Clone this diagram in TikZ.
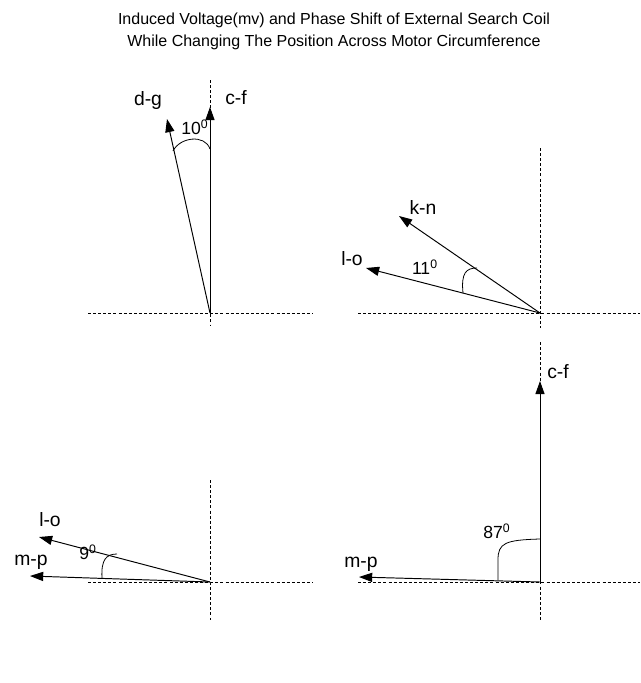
\documentclass[tikz,border=0pt]{standalone}
\usepackage{fontspec}
\setmainfont{Liberation Sans}
\usetikzlibrary{arrows.meta}

\tikzset{
  axis/.style={dash pattern=on 1.7pt off 1.2pt, line width=0.4pt},
  phasor/.style={line width=0.55pt, -{Triangle[length=7.5pt,width=5.2pt]}},
  anglearc/.style={line width=0.45pt},
  vlabel/.style={font=\fontsize{11}{12}\selectfont, inner sep=0pt},
  alabel/.style={font=\fontsize{10}{11}\selectfont, inner sep=0pt}
}

\begin{document}
\begin{tikzpicture}[x=0.02cm, y=-0.02cm]
\useasboundingbox (0,0) rectangle (640,683);

% Title
\node[font=\fontsize{9.1}{12.5}\selectfont, align=center] (title) at (334,31)
  {Induced Voltage(mv) and Phase Shift of External Search Coil\\While Changing The Position Across Motor Circumference};

% Top left: c-f and d-g
\coordinate (O1) at (210,313);
\coordinate (cf1) at (210,107);
\coordinate (dg1) at (167,119);
\coordinate (a1s) at (173,151);
\coordinate (a1e) at (210,149);
\draw[axis] (88,313) -- (313,313);
\draw[axis] (210,80) -- (210,325);
\draw[phasor] (O1) -- (cf1);
\draw[phasor] (O1) -- (dg1);
\draw[anglearc] (a1s) .. controls (180,137) and (205,134) .. (a1e);
\node[vlabel] (lcf1) at (236,98) {c-f};
\node[vlabel] (ldg1) at (148,101) {d-g};
\node[alabel] (ang1) at (195,127) {10\textsuperscript{0}};

% Top right: k-n and l-o
\coordinate (O2) at (540,313);
\coordinate (kn2) at (399,216);
\coordinate (lo2) at (366,268);
\coordinate (a2s) at (463,293);
\coordinate (a2e) at (477,268);
\draw[axis] (358,313) -- (640,313);
\draw[axis] (540,148) -- (540,328);
\draw[phasor] (O2) -- (kn2);
\draw[phasor] (O2) -- (lo2);
\draw[anglearc] (a2s) .. controls (461,273) and (466,268) .. (a2e);
\node[vlabel] (lkn2) at (423,207) {k-n};
\node[vlabel] (llo2) at (352,259) {l-o};
\node[alabel] (ang2) at (425,267) {11\textsuperscript{0}};

% Bottom left: l-o and m-p
\coordinate (O3) at (210,582);
\coordinate (lo3) at (39,537);
\coordinate (mp3) at (30,576);
\coordinate (a3s) at (102,578);
\coordinate (a3e) at (117,554);
\draw[axis] (88,582) -- (313,582);
\draw[axis] (210,480) -- (210,620);
\draw[phasor] (O3) -- (lo3);
\draw[phasor] (O3) -- (mp3);
\draw[anglearc] (a3s) .. controls (101,560) and (106,554) .. (a3e);
\node[vlabel] (llo3) at (50,520) {l-o};
\node[vlabel] (lmp3) at (31,562) {m-p};
\node[alabel] (ang3) at (88,552) {9\textsuperscript{0}};

% Bottom right: c-f and m-p
\coordinate (O4) at (540,582);
\coordinate (cf4) at (540,381);
\coordinate (mp4) at (359,577);
\coordinate (a4s) at (498,580);
\coordinate (a4m) at (498,560);
\coordinate (a4e) at (540,539);
\draw[axis] (358,582) -- (640,582);
\draw[axis] (540,342) -- (540,620);
\draw[phasor] (O4) -- (cf4);
\draw[phasor] (O4) -- (mp4);
\draw[anglearc] (a4s) -- (a4m) .. controls (498,543) and (505,540) .. (a4e);
\node[vlabel] (lcf4) at (558,372) {c-f};
\node[vlabel] (lmp4) at (361,564) {m-p};
\node[alabel] (ang4) at (497,531) {87\textsuperscript{0}};
\end{tikzpicture}
\end{document}
